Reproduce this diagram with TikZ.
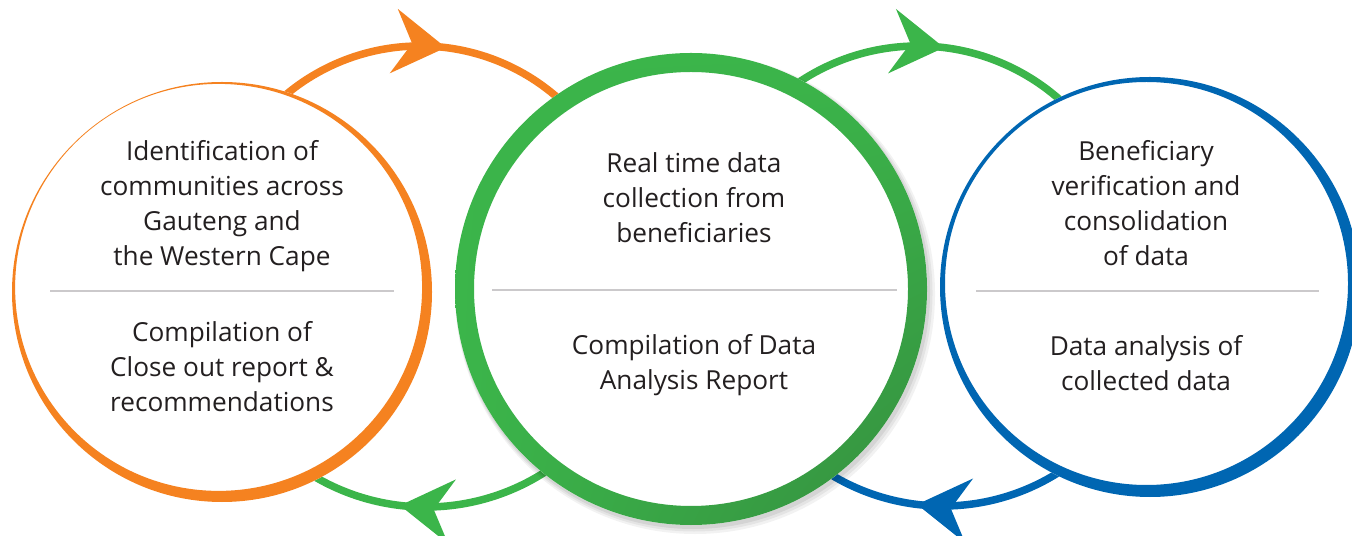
\documentclass[tikz,border=0pt]{standalone}
\usepackage{fontspec}
\setmainfont{Open Sans}
\usetikzlibrary{arrows.meta,decorations.markings,calc,shadings}
\definecolor{orangeC}{HTML}{F58220}
\definecolor{greenA}{HTML}{3BB54A}
\definecolor{greenB}{HTML}{358E3F}
\definecolor{blueC}{HTML}{0066B2}
\definecolor{grayline}{HTML}{CBC9CB}
\definecolor{textC}{HTML}{231F20}
\newcommand{\stacktext}[1]{{\fontsize{13.1pt}{17.5pt}\selectfont\begin{tabular}[t]{@{}c@{}}#1\end{tabular}}}
\tikzset{
  flowarc/.style={line width=3.75pt},
  midarrow/.style={postaction={decorate},
    decoration={markings, mark=at position #1 with {\arrow{Stealth[length=26pt,width=32pt,inset=9pt]}}}},
  disc/.style={circle, fill=white, inner sep=0pt, outer sep=0pt},
  txt/.style={anchor=base, inner sep=0pt, text=textC},
  sep/.style={draw=grayline, line width=1pt}
}
\begin{document}
\begin{tikzpicture}[x=0.5pt,y=0.5pt]
\useasboundingbox (0,0) rectangle (1352,535);
\clip (0,0) rectangle (1352,535);
\coordinate (cL) at (222,243);
\coordinate (cM) at (691,246);
\coordinate (cR) at (1150,248);
\coordinate (a1) at (420,280);
\coordinate (a2) at (918,275);
\coordinate (a3) at (426,248);
\coordinate (a4) at (943,245);
% connecting arcs
\draw[flowarc, orangeC, midarrow=0.571] ($(a1)+(140:209)$) arc[start angle=140, end angle=40, radius=209];
\draw[flowarc, greenA, midarrow=0.570] ($(a2)+(140:214)$) arc[start angle=140, end angle=40, radius=214];
\draw[flowarc, greenA, midarrow=0.568] ($(a3)+(-40:220)$) arc[start angle=-40, end angle=-140, radius=220];
\draw[flowarc, blueC, midarrow=0.569] ($(a4)+(-40:216)$) arc[start angle=-40, end angle=-140, radius=216];
% shadow of middle circle
\fill[black, opacity=0.07] ($(cM)+(2,-3)$) circle (237);
\fill[black, opacity=0.06] ($(cM)+(3,-4)$) circle (238.5);
\fill[black, opacity=0.05] ($(cM)+(4,-5)$) circle (240);
% circles
\node[disc, minimum size=210pt] (L) at (cL) {};
\node[disc, minimum size=236pt] (M) at (cM) {};
\node[disc, minimum size=210pt] (R) at (cR) {};
\fill[orangeC, even odd rule] (cL) circle (210) ($(cL)+(-3.4,4.6)$) circle (203.5);
\shade[even odd rule, upper left=greenA, upper right=greenA, lower left=greenA, lower right=greenB] (cM) circle (236) (cM) circle (217);
\fill[blueC, even odd rule] (cR) circle (210) ($(cR)+(-3.5,3.5)$) circle (201.5);
% separators
\coordinate (sL1) at (50,244);  \coordinate (sL2) at (394,244);
\coordinate (sM1) at (492,245); \coordinate (sM2) at (897,245);
\coordinate (sR1) at (976,244); \coordinate (sR2) at (1319,244);
\draw[sep] (sL1) -- (sL2);
\draw[sep] (sM1) -- (sM2);
\draw[sep] (sR1) -- (sR2);
% texts
\node[txt] (Lt) at (222,374) {\stacktext{Identification of\\communities across\\Gauteng and\\the Western Cape}};
\node[txt] (Lb) at (222,193) {\stacktext{Compilation of\\Close out report \&\\recommendations}};
\node[txt] (Mt) at (694,362) {\stacktext{Real time data\\collection from\\beneficiaries}};
\node[txt] (Mb) at (694,180) {\stacktext{Compilation of Data\\Analysis Report}};
\node[txt] (Rt) at (1146,374) {\stacktext{Beneficiary\\verification and\\consolidation\\of data}};
\node[txt] (Rb) at (1146,179) {\stacktext{Data analysis of\\collected data}};
\end{tikzpicture}
\end{document}
